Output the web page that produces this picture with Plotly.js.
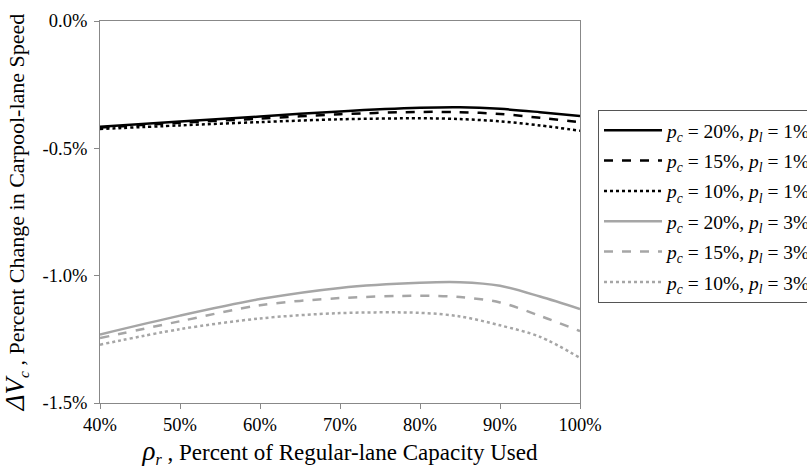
<!DOCTYPE html>
<html>
<head>
<meta charset="utf-8">
<script src="https://cdn.plot.ly/plotly-3.0.1.min.js"></script>
<style>html,body{margin:0;padding:0;background:#fff;}#chart{width:807px;height:468px;}</style>
</head>
<body>
<div id="chart"></div>
<script>
const rho = [40, 50, 60, 70, 80, 85, 90, 95, 100];
const s20_1 = [-0.415, -0.395, -0.375, -0.355, -0.341, -0.339, -0.345, -0.358, -0.373];
const s15_1 = [-0.418, -0.400, -0.383, -0.366, -0.357, -0.358, -0.365, -0.380, -0.397];
const s10_1 = [-0.424, -0.410, -0.397, -0.386, -0.382, -0.385, -0.394, -0.410, -0.431];
const s20_3 = [-1.231, -1.157, -1.092, -1.048, -1.028, -1.026, -1.040, -1.082, -1.131];
const s15_3 = [-1.245, -1.179, -1.116, -1.088, -1.079, -1.084, -1.105, -1.158, -1.218];
const s10_3 = [-1.271, -1.210, -1.168, -1.147, -1.146, -1.160, -1.195, -1.240, -1.323];
const names = [
  "<i>p</i><sub><i>c</i></sub> = 20%, <i>p</i><sub><i>l</i></sub> = 1%",
  "<i>p</i><sub><i>c</i></sub> = 15%, <i>p</i><sub><i>l</i></sub> = 1%",
  "<i>p</i><sub><i>c</i></sub> = 10%, <i>p</i><sub><i>l</i></sub> = 1%",
  "<i>p</i><sub><i>c</i></sub> = 20%, <i>p</i><sub><i>l</i></sub> = 3%",
  "<i>p</i><sub><i>c</i></sub> = 15%, <i>p</i><sub><i>l</i></sub> = 3%",
  "<i>p</i><sub><i>c</i></sub> = 10%, <i>p</i><sub><i>l</i></sub> = 3%"
];
const xTickVals = [40, 50, 60, 70, 80, 90, 100];
const xTickText = ["40%", "50%", "60%", "70%", "80%", "90%", "100%"];
const yTickVals = [-1.5, -1.0, -0.5, 0.0];
const yTickText = ["-1.5%", "-1.0%", "-0.5%", "0.0%"];

const series = [s20_1, s15_1, s10_1, s20_3, s15_3, s10_3];
const colors = ["#000000", "#000000", "#000000", "#a6a6a6", "#a6a6a6", "#a6a6a6"];
const dashes = ["solid", "dash", "dot", "solid", "dash", "dot"];

const traces = series.map((s, i) => ({
  x: rho, y: s, name: names[i], type: "scatter", mode: "lines",
  legendgroup: "g" + i,
  line: {color: colors[i], dash: dashes[i], width: 2.5, shape: "spline", smoothing: 0.9}
}));

const font = "Liberation Serif";
const layout = {
  width: 807, height: 468,
  margin: {l: 100, r: 227, t: 21, b: 65, autoexpand: false},
  paper_bgcolor: "#fff", plot_bgcolor: "#fff",
  font: {family: font, size: 16, color: "#000"},
  showlegend: true,
  legend: {
    x: 1.0375, y: 0.767, xanchor: "left", yanchor: "top",
    bordercolor: "#555", borderwidth: 1, bgcolor: "#fff",
    font: {family: font, size: 19.5, color: "#000"},
    tracegroupgap: 2, itemwidth: 58,
    itemclick: false
  },
  xaxis: {
    range: [40, 100], tickvals: xTickVals, ticktext: xTickText,
    showgrid: false, zeroline: false, showline: true, linecolor: "#888", linewidth: 1,
    mirror: true, ticks: "outside", ticklen: 5, tickcolor: "#888",
    tickfont: {family: font, size: 18.5},
    title: {text: "<span style='font-size:27px'><i>ρ</i></span><sub><i>r</i></sub> , Percent of Regular-lane Capacity Used", font: {family: font, size: 23}, standoff: 9}
  },
  yaxis: {
    range: [-1.5, 0], tickvals: yTickVals, ticktext: yTickText,
    showgrid: false, zeroline: false, showline: true, linecolor: "#888", linewidth: 1,
    mirror: true, ticks: "outside", ticklen: 5, tickcolor: "#888",
    ticklabelstandoff: 3,
    tickfont: {family: font, size: 18.5},
    title: {text: "<span style='font-size:27px'><i>ΔV</i></span><sub><i>c</i></sub> , Percent Change in Carpool-lane Speed", font: {family: font, size: 22}, standoff: 12}
  }
};
Plotly.newPlot("chart", traces, layout, {staticPlot: true, displayModeBar: false});
</script>
</body>
</html>
